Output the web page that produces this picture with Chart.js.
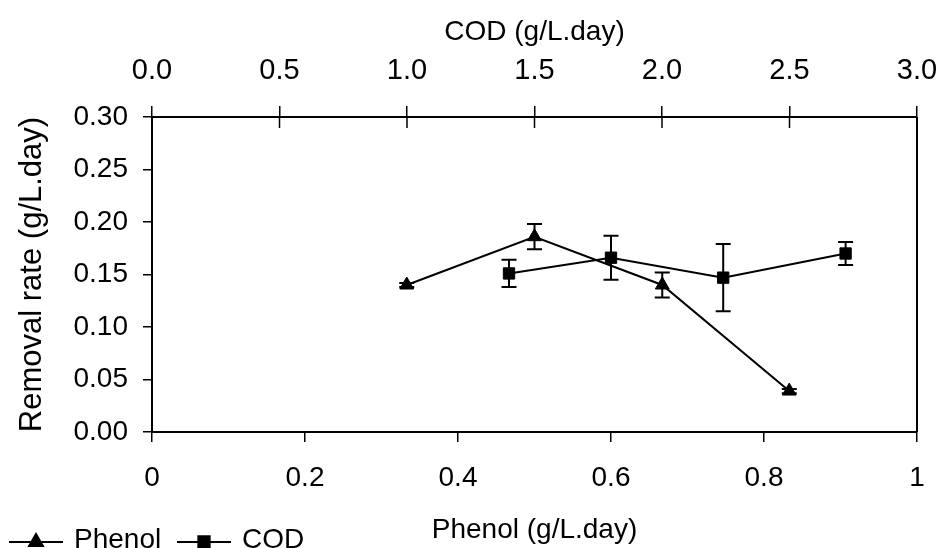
<!DOCTYPE html>
<html>
<head>
<meta charset="utf-8">
<script src="https://cdn.jsdelivr.net/npm/chart.js@4/dist/chart.umd.min.js"></script>
<style>
  html, body { margin: 0; padding: 0; background: #fff; }
  #wrap { width: 940px; height: 548px; position: relative; }
</style>
</head>
<body>
<div id="wrap"><canvas id="c"></canvas></div>
<script>
// Phenol series (bottom axis, g/L.day)
const phenolLoad = [0.333, 0.5, 0.667, 0.833]
const phenolRate = [0.140, 0.186, 0.140, 0.039]
const phenolErr = [0.002, 0.012, 0.012, 0.002]

// COD series (top axis, g/L.day)
const codLoad = [1.40, 1.80, 2.24, 2.72]
const codRate = [0.151, 0.166, 0.147, 0.170]
const codErr = [0.013, 0.021, 0.032, 0.011]

const seriesNames = ['Phenol', 'COD']
const errors = [phenolErr, codErr]

const FONT = "'Liberation Sans', Arial, sans-serif"
const LEFT = 152, TOP = 117, RIGHT = 917, BOTTOM = 432, W = 940, H = 548

// error bars, right spine, inner half of top ticks
const extras = {
  id: 'extras',
  afterDatasetsDraw(chart) {
    const ctx = chart.ctx
    const y = chart.scales.y
    const area = chart.chartArea
    ctx.save()
    ctx.strokeStyle = '#000'
    ctx.lineWidth = 2
    chart.data.datasets.forEach((ds, i) => {
      const xs = chart.scales[ds.xAxisID]
      ds.data.forEach((p, j) => {
        const px = xs.getPixelForValue(p.x)
        const e = errors[i][j]
        const y1 = y.getPixelForValue(p.y + e)
        const y2 = y.getPixelForValue(p.y - e)
        ctx.beginPath()
        ctx.moveTo(px, y1); ctx.lineTo(px, y2)
        ctx.moveTo(px - 7.5, y1); ctx.lineTo(px + 7.5, y1)
        ctx.moveTo(px - 7.5, y2); ctx.lineTo(px + 7.5, y2)
        ctx.stroke()
      })
    })
    // right spine
    ctx.beginPath()
    ctx.moveTo(area.right, area.top); ctx.lineTo(area.right, area.bottom)
    ctx.stroke()
    // top ticks cross into plot
    ctx.lineWidth = 1.5
    const x2 = chart.scales.x2
    x2.ticks.forEach(t => {
      const px = x2.getPixelForValue(t.value)
      ctx.beginPath()
      ctx.moveTo(px, area.top); ctx.lineTo(px, area.top + 11)
      ctx.stroke()
    })
    ctx.restore()
  },
  afterDraw(chart) {
    // legend: line through marker, then the label
    const ctx = chart.ctx
    const spots = [9, 177]
    ctx.save()
    chart.data.datasets.forEach((ds, i) => {
      const x0 = spots[i], ly = 542
      ctx.strokeStyle = '#000'
      ctx.lineWidth = 2
      ctx.beginPath()
      ctx.moveTo(x0, ly); ctx.lineTo(x0 + 54, ly)
      ctx.stroke()
      ctx.fillStyle = '#000'
      Chart.helpers.drawPoint(ctx, {
        pointStyle: ds.pointStyle, radius: 8, rotation: 0, borderWidth: 1
      }, x0 + 27, ly)
      ctx.font = '28px ' + FONT
      ctx.textBaseline = 'alphabetic'
      ctx.textAlign = 'left'
      ctx.fillText(ds.label, x0 + 65, 548)
    })
    ctx.restore()
  }
}

const axisBorder = { display: true, color: '#000', width: 2 }

new Chart(document.getElementById('c'), {
  type: 'scatter',
  data: {
    datasets: [
      {
        label: seriesNames[0],
        xAxisID: 'x',
        data: phenolLoad.map((v, i) => ({ x: v, y: phenolRate[i] })),
        showLine: true,
        borderColor: '#000',
        borderWidth: 2,
        pointStyle: 'triangle',
        pointRadius: 8,
        pointBackgroundColor: '#000',
        pointBorderColor: '#000',
        pointBorderWidth: 1
      },
      {
        label: seriesNames[1],
        xAxisID: 'x2',
        data: codLoad.map((v, i) => ({ x: v, y: codRate[i] })),
        showLine: true,
        borderColor: '#000',
        borderWidth: 2,
        pointStyle: 'rect',
        pointRadius: 8,
        pointBackgroundColor: '#000',
        pointBorderColor: '#000',
        pointBorderWidth: 1
      }
    ]
  },
  options: {
    responsive: true,
    maintainAspectRatio: false,
    animation: false,
    layout: { padding: { left: 0, top: 0, right: W - RIGHT, bottom: 0 } },
    plugins: { legend: { display: false }, tooltip: { enabled: false } },
    scales: {
      x: {
        type: 'linear', position: 'bottom', min: 0, max: 1,
        ticks: {
          stepSize: 0.2, maxRotation: 0, autoSkip: false, padding: 19, color: '#000',
          font: { family: FONT, size: 28, lineHeight: 1.2 },
          callback: v => String(Number(v.toFixed(1)))
        },
        grid: { drawOnChartArea: false, tickLength: 10, color: '#000', lineWidth: 1.5 },
        border: axisBorder,
        title: {
          display: true, text: 'Phenol (g/L.day)', color: '#000',
          font: { family: FONT, size: 28, lineHeight: 1.2 },
          padding: { top: 0, bottom: 1 }
        },
        afterFit: s => { s.height = H - BOTTOM; s.paddingLeft = 0; s.paddingRight = 0 }
      },
      x2: {
        type: 'linear', position: 'top', min: 0, max: 3,
        ticks: {
          stepSize: 0.5, maxRotation: 0, autoSkip: false, padding: 18, color: '#000',
          font: { family: FONT, size: 29, lineHeight: 1.2 },
          callback: v => v.toFixed(1)
        },
        grid: { drawOnChartArea: false, tickLength: 11, color: '#000', lineWidth: 1.5 },
        border: axisBorder,
        title: {
          display: true, text: 'COD (g/L.day)', color: '#000',
          font: { family: FONT, size: 28, lineHeight: 1.2 },
          padding: { top: 15, bottom: 0 }
        },
        afterFit: s => { s.height = TOP; s.paddingLeft = 0; s.paddingRight = 0 }
      },
      y: {
        type: 'linear', position: 'left', min: 0, max: 0.3,
        ticks: {
          stepSize: 0.05, padding: 15, color: '#000',
          font: { family: FONT, size: 28, lineHeight: 1.2 },
          callback: v => v.toFixed(2)
        },
        grid: { drawOnChartArea: false, tickLength: 9, color: '#000', lineWidth: 1.5 },
        border: axisBorder,
        title: {
          display: true, text: 'Removal rate (g/L.day)', color: '#000',
          font: { family: FONT, size: 31, lineHeight: 1.2 },
          padding: { top: 14, bottom: 0 }
        },
        afterFit: s => { s.width = LEFT; s.paddingTop = 0; s.paddingBottom = 0 }
      }
    }
  },
  plugins: [extras]
})
</script>
</body>
</html>
